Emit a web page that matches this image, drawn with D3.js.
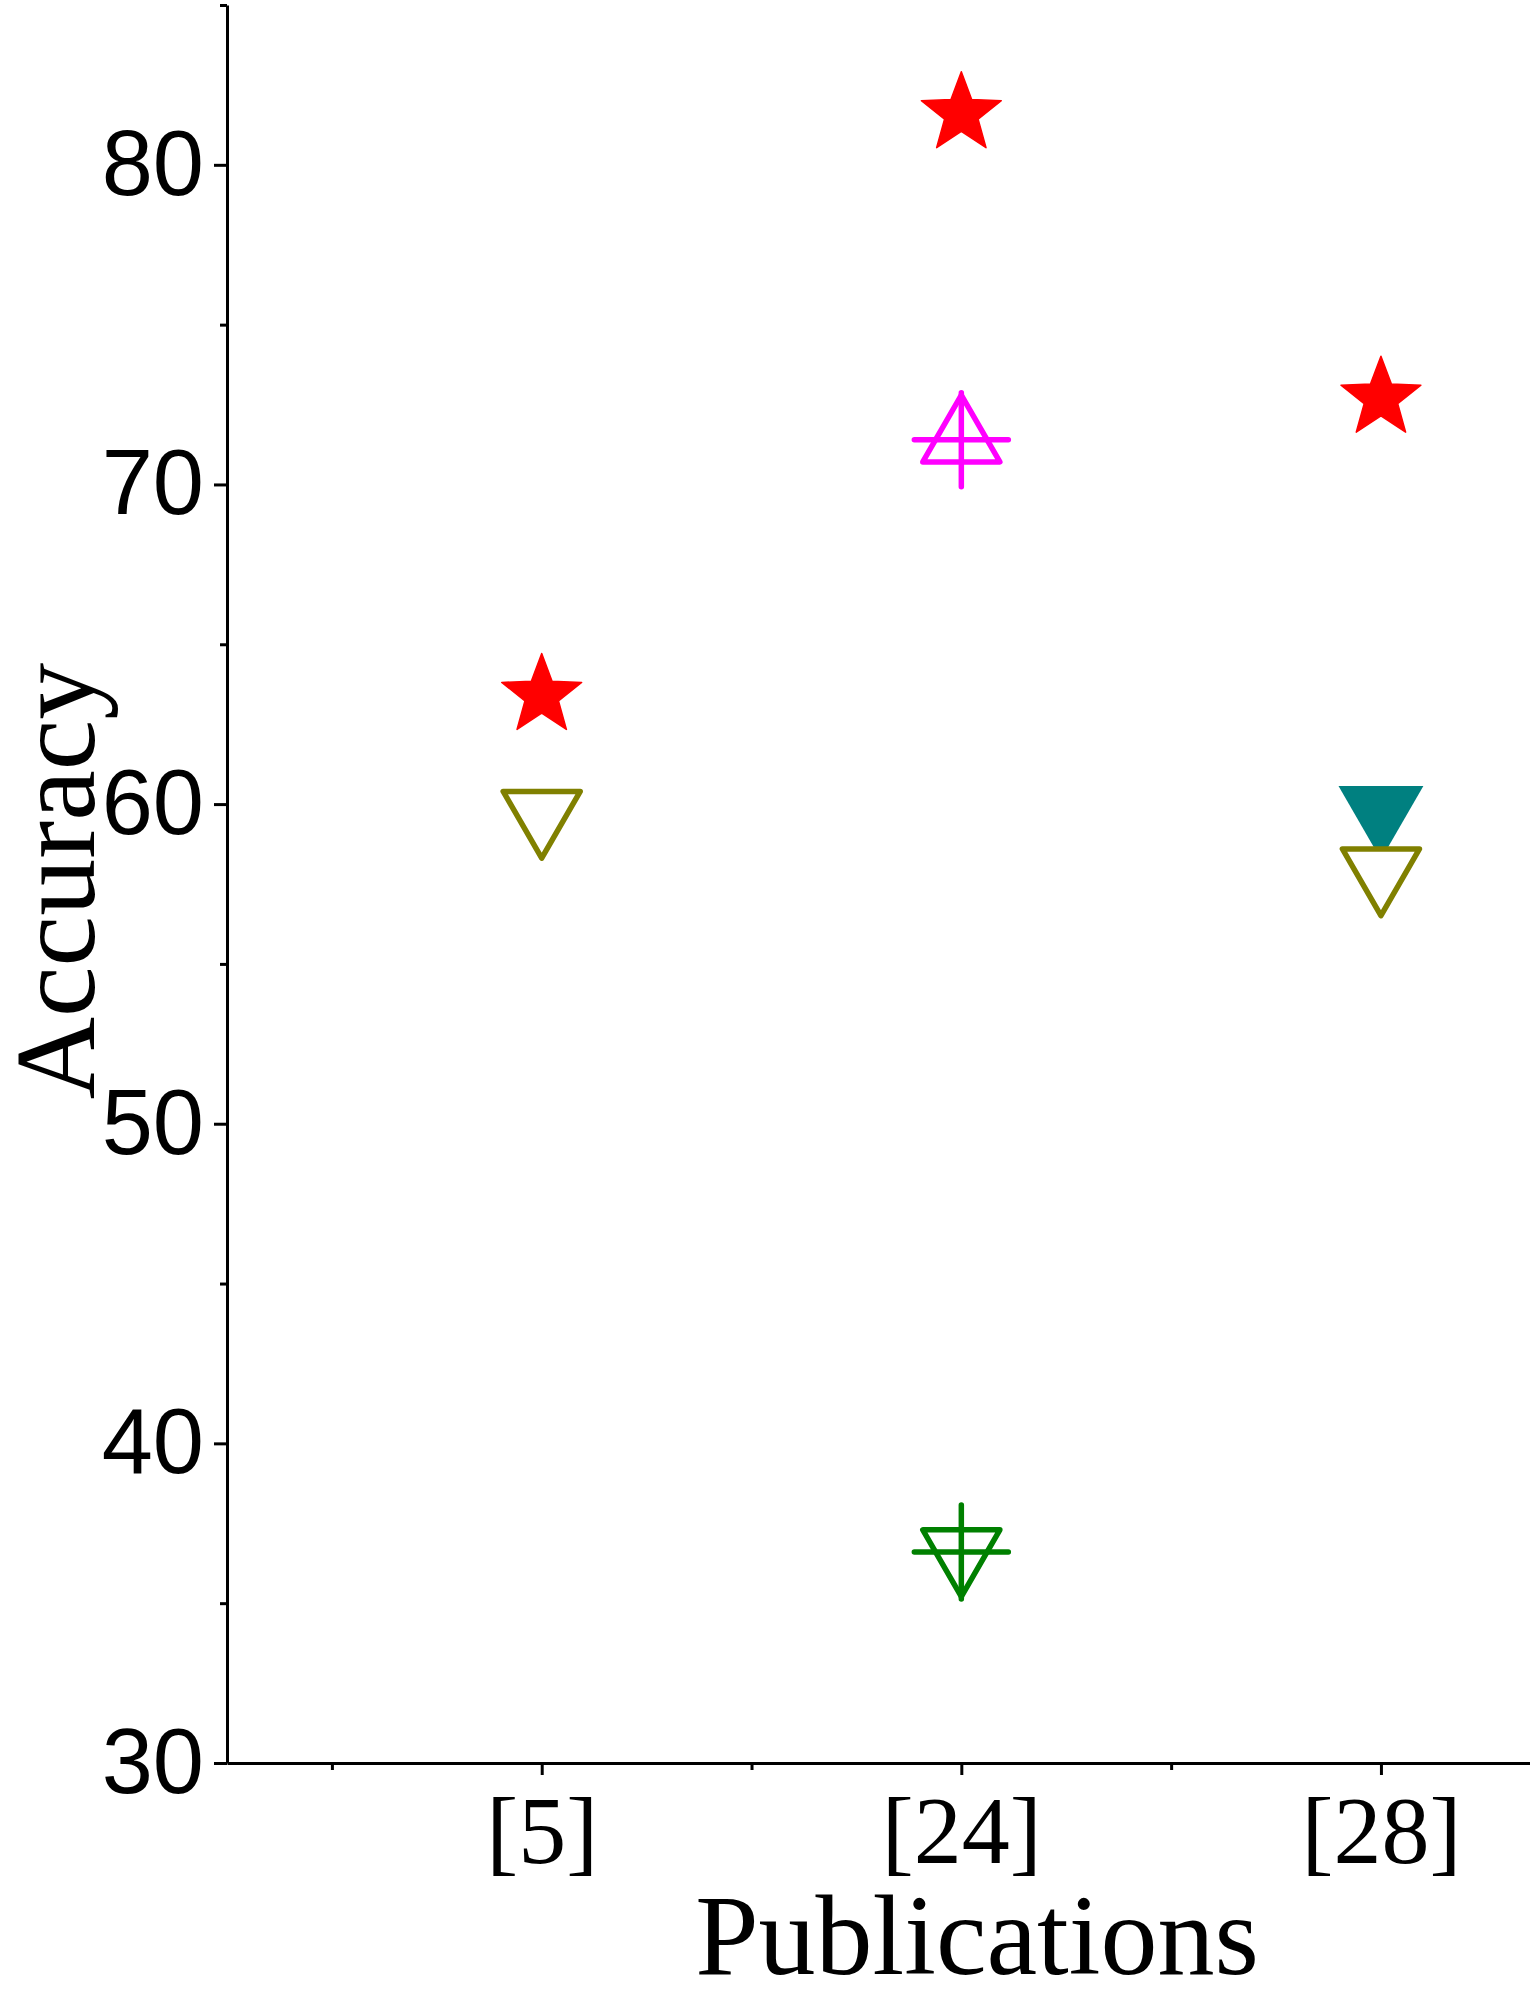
<!DOCTYPE html>
<html>
<head>
<meta charset="utf-8">
<script src="https://cdn.jsdelivr.net/npm/d3@7"></script>
<style>
  body { margin: 0; background: #fff; }
  svg { display: block; }
</style>
</head>
<body>
<div id="chart"></div>
<script>
// publications on the x axis
const categories = ["[5]", "[24]", "[28]"];

// accuracy per publication, one array per marker series (null = no point)
const starAcc      = [63.4, 81.6, 72.7];
const tealDownAcc  = [null, null, 59.8];
const oliveDownAcc = [59.7, null, 57.9];
const magentaUpAcc = [null, 71.4, null];
const greenDownAcc = [null, 36.6, null];

const yMajorTicks = [30, 40, 50, 60, 70, 80];
const yMinorTicks = [35, 45, 55, 65, 75, 85];
const xMinorTicks = [0.5, 1.5, 2.5];

let width = 1530,
    height = 1996;

let svg = d3.select("#chart").append("svg")
    .attr("width", width)
    .attr("height", height);

let x = d3.scaleLinear().domain([0.25, 3.36]).range([227, 1532]);
let y = d3.scaleLinear().domain([30, 85]).range([1763, 5]);

//y axis, major + minor ticks
svg.append("g")
    .attr("transform", "translate(227,0)")
    .call(d3.axisLeft(y).tickValues(yMinorTicks).tickSize(7).tickSizeOuter(0).tickFormat(""))
    .call(g => g.select(".domain").remove())
    .selectAll("line").attr("stroke-width", 3);

let yAxis = svg.append("g")
    .attr("transform", "translate(227,0)")
    .call(d3.axisLeft(y).tickValues(yMajorTicks).tickSize(13).tickSizeOuter(0).tickPadding(10));
yAxis.select(".domain").attr("stroke-width", 3);
yAxis.selectAll("line").attr("stroke-width", 3);
yAxis.selectAll("text")
    .attr("font-family", "'Liberation Sans', Arial, sans-serif")
    .attr("font-size", 92)
    .attr("fill", "#000");

//x axis
svg.append("g")
    .attr("transform", "translate(0,1763)")
    .call(d3.axisBottom(x).tickValues(xMinorTicks).tickSize(7).tickSizeOuter(0).tickFormat(""))
    .call(g => g.select(".domain").remove())
    .selectAll("line").attr("stroke-width", 3);

let xAxis = svg.append("g")
    .attr("transform", "translate(0,1763)")
    .call(d3.axisBottom(x).tickValues([1, 2, 3]).tickSize(12).tickSizeOuter(0)
        .tickFormat(d => categories[d - 1]));
xAxis.select(".domain").attr("stroke-width", 3);
xAxis.selectAll("line").attr("stroke-width", 3);
xAxis.selectAll("text")
    .attr("y", 100)
    .attr("dy", 0)
    .attr("font-family", "'Liberation Serif', 'Times New Roman', serif")
    .attr("font-size", 96)
    .attr("fill", "#000");

//axis titles
svg.append("text")
    .attr("x", 977)
    .attr("y", 1974)
    .attr("text-anchor", "middle")
    .attr("font-family", "'Liberation Serif', 'Times New Roman', serif")
    .attr("font-size", 114)
    .text("Publications");

svg.append("text")
    .attr("transform", "translate(94,881) rotate(-90)")
    .attr("text-anchor", "middle")
    .attr("font-family", "'Liberation Serif', 'Times New Roman', serif")
    .attr("font-size", 114)
    .text("Accuracy");

//marker shapes
let starPath = d3.lineRadial()
    .angle(d => d[0])
    .radius(d => d[1])
    .curve(d3.curveLinearClosed)(d3.range(10).map(i => [i * Math.PI / 5, i % 2 ? 42 * 0.42 : 42]));

let triSize = R => 3 * Math.sqrt(3) * R * R / 4;
let triFilled = d3.symbol(d3.symbolTriangle, triSize(49))();
let triHollow = d3.symbol(d3.symbolTriangle, triSize(44.5))();
let crossPath = "M-47,0H47M0,-47V47";

let series = [
    {values: starAcc,      path: starPath,  rot: 0,   fill: "#ff0000", stroke: "#ff0000", sw: 1.5, cross: false},
    {values: tealDownAcc,  path: triFilled, rot: 180, fill: "#008080", stroke: "none",    sw: 0,   cross: false},
    {values: oliveDownAcc, path: triHollow, rot: 180, fill: "#fff",    stroke: "#808000", sw: 5.5, cross: false},
    {values: magentaUpAcc, path: triHollow, rot: 0,   fill: "#fff",    stroke: "#ff00ff", sw: 5.5, cross: true},
    {values: greenDownAcc, path: triHollow, rot: 180, fill: "#fff",    stroke: "#008000", sw: 5.5, cross: true}
];

series.forEach(s => {
    let pts = s.values.map((v, i) => ({x: i + 1, v: v})).filter(d => d.v != null);
    let g = svg.append("g").selectAll("g")
        .data(pts)
        .enter()
        .append("g")
        .attr("transform", d => "translate(" + x(d.x) + "," + y(d.v) + ")");
    g.append("path")
        .attr("d", s.path)
        .attr("transform", "rotate(" + s.rot + ")")
        .attr("fill", s.fill)
        .attr("stroke", s.stroke)
        .attr("stroke-width", s.sw)
        .attr("stroke-linejoin", "round");
    if (s.cross) {
        g.append("path")
            .attr("d", crossPath)
            .attr("fill", "none")
            .attr("stroke", s.stroke)
            .attr("stroke-width", 5.5)
            .attr("stroke-linecap", "round");
    }
});
</script>
</body>
</html>
